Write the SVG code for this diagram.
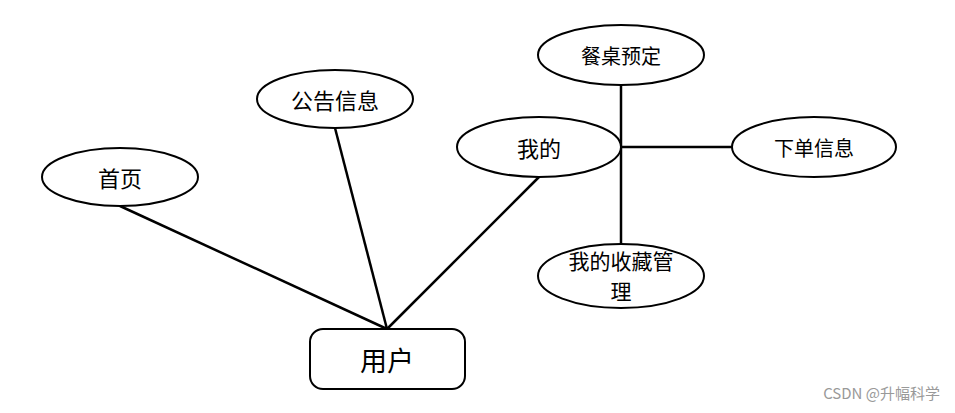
<svg xmlns="http://www.w3.org/2000/svg" width="955" height="413" viewBox="0 0 955 413">
<style>
.n{fill:#fff;stroke:#000;stroke-width:2}
.t{font-family:"Noto Sans CJK SC","Noto Sans",sans-serif;font-size:22px;fill:#000;text-anchor:middle;dominant-baseline:central}
.c{stroke:#000;stroke-width:2.5;fill:none}
</style>
<rect width="955" height="413" fill="#fff"/>
<g id="connectors">
<line class="c" x1="120" y1="206" x2="387" y2="329"/>
<line class="c" x1="335" y1="128" x2="387" y2="329"/>
<line class="c" x1="539" y1="177" x2="387" y2="329"/>
<line class="c" x1="621" y1="85" x2="621" y2="245"/>
<line class="c" x1="621" y1="147" x2="732" y2="147"/>
</g>
<g id="home"><ellipse class="n" cx="120" cy="177" rx="78" ry="29"/><text class="t" x="120" y="177">首页</text></g>
<g id="notice"><ellipse class="n" cx="335" cy="99" rx="78" ry="29"/><text class="t" x="335" y="99">公告信息</text></g>
<g id="mine"><ellipse class="n" cx="539" cy="147" rx="82" ry="30"/><text class="t" x="539" y="147">我的</text></g>
<g id="booking"><ellipse class="n" cx="621" cy="55" rx="83" ry="30"/><text class="t" x="621" y="55" style="font-size:20px">餐桌预定</text></g>
<g id="order"><ellipse class="n" cx="814" cy="147" rx="82" ry="30"/><text class="t" x="814" y="147" style="font-size:20px">下单信息</text></g>
<g id="favorites"><ellipse class="n" cx="621" cy="276" rx="83" ry="32"/><text class="t" x="621" y="260" style="font-size:21px">我的收藏管</text><text class="t" x="621" y="290" style="font-size:21px">理</text></g>
<g id="user"><rect class="n" x="310" y="329" width="155" height="60" rx="13"/><text class="t" x="387" y="359" style="font-size:27px">用户</text></g>
<text x="940" y="399" style="font-family:'Noto Sans CJK SC','Liberation Sans',sans-serif;font-size:15px;fill:#999;text-anchor:end">CSDN @升幅科学</text>
</svg>
